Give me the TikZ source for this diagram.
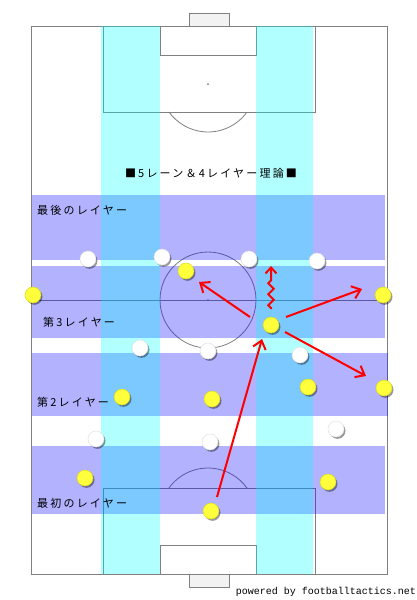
\documentclass[tikz,border=0pt]{standalone}
\usepackage{fontspec}
\newfontfamily\jp[LetterSpace=20]{Noto Sans CJK JP}
\newfontfamily\monof{Liberation Mono}
\usetikzlibrary{arrows.meta,decorations.pathmorphing,shadows}
\definecolor{pitchgray}{HTML}{808080}
\definecolor{goalfill}{HTML}{F2F2F2}
\definecolor{yel}{HTML}{FFFF3C}
\definecolor{yeledge}{HTML}{D8D820}
\definecolor{lanec}{rgb}{0,1,1}
\definecolor{bandc}{rgb}{0,0,1}
\definecolor{arrred}{rgb}{1,0,0}
\begin{document}
\begin{tikzpicture}[x=1pt,y=-1pt,
  pline/.style={draw=pitchgray, line width=0.8pt},
  goalbox/.style={draw=pitchgray, line width=0.8pt, fill=goalfill},
  band/.style={fill=bandc, fill opacity=0.3},
  lane/.style={fill=lanec, fill opacity=0.3},
  player/.style={circle, minimum size=16pt, inner sep=0pt,
    drop shadow={shadow xshift=1.5pt, shadow yshift=-1.8pt, opacity=0.4, fill=black}},
  wp/.style={player, fill=white, draw=black!12, line width=0.5pt},
  yp/.style={player, fill=yel, draw=yeledge, line width=0.5pt},
  arr/.style={draw=arrred, line width=2pt, -{Straight Barb[length=8pt,width=13pt]}},
  lbl/.style={anchor=west, font=\jp\fontsize{11}{13}\selectfont, inner sep=0pt},
]
\useasboundingbox (0,0) rectangle (417,600);
\fill[white] (0,0) rectangle (417,600);
% goals
\draw[goalbox] (189,13) rectangle (229,26);
\draw[goalbox] (189,574) rectangle (229,587);
% pitch
\fill[white] (31,26) rectangle (387,574);
\draw[pline] (31,26) rectangle (387,574);
\draw[pline] (31,300) -- (387,300);
\draw[pline] (208,300) circle[radius=48];
\fill[pitchgray] (208,300) circle[radius=1];
% top area
\draw[pline] (103,26) rectangle (315,112);
\draw[pline] (160,26) rectangle (256,55);
\fill[pitchgray] (208,84) circle[radius=1];
\draw[pline] (247,112) arc[start angle=35.7, end angle=144.3, radius=48];
% bottom area
\draw[pline] (103,488) rectangle (315,574);
\draw[pline] (160,545) rectangle (256,574);
\fill[pitchgray] (208,516) circle[radius=1];
\draw[pline] (169,488) arc[start angle=-144.3, end angle=-35.7, radius=48];
% layers
\fill[band] (32,195) rectangle (385,260);
\fill[band] (32,266) rectangle (385,338);
\fill[band] (32,353) rectangle (388,416);
\fill[band] (32,446) rectangle (385,514);
% lanes
\fill[lane] (101,26) rectangle (160,574);
\fill[lane] (256,26) rectangle (313,574);
% texts
\node[font=\jp\fontsize{11}{13}\selectfont, inner sep=0pt] (title) at (211,173) {■5レーン＆4レイヤー理論■};
\node[lbl] (l1) at (37,210) {最後のレイヤー};
\node[lbl] (l2) at (43,322) {第3レイヤー};
\node[lbl] (l3) at (37,402) {第2レイヤー};
\node[lbl] (l4) at (37,503) {最初のレイヤー};
\node[anchor=east, font=\monof\fontsize{10}{12}\selectfont, inner sep=0pt] (credit) at (416,592) {powered by footballtactics.net};
% white players
\node[wp] (w1) at (88,259) {};
\node[wp] (w2) at (162,257) {};
\node[wp] (w3) at (249,259) {};
\node[wp] (w4) at (317,261) {};
\node[wp] (w5) at (140,348) {};
\node[wp] (w6) at (208,351) {};
\node[wp] (w7) at (300,355) {};
\node[wp] (w8) at (96,439) {};
\node[wp] (w9) at (210,442) {};
\node[wp] (w10) at (336,429) {};
% yellow players
\node[yp] (y1) at (186,271) {};
\node[yp] (y2) at (33,295) {};
\node[yp] (y3) at (383,295) {};
\node[yp] (y4) at (271,325) {};
\node[yp] (y5) at (122,397) {};
\node[yp] (y6) at (212,399) {};
\node[yp] (y7) at (308,387) {};
\node[yp] (y8) at (384,388) {};
\node[yp] (y9) at (85,478) {};
\node[yp] (y10) at (328,482) {};
\node[yp] (y11) at (211,511) {};
% arrow end points
\coordinate (a1s) at (250,317);
\coordinate (a1e) at (199,282);
\coordinate (a2s) at (271,309);
\coordinate (a2e) at (271,266);
\coordinate (a3s) at (286,317);
\coordinate (a3e) at (362,289);
\coordinate (a4s) at (285,332);
\coordinate (a4e) at (366,376);
\coordinate (a5s) at (217,497);
\coordinate (a5e) at (262,339);
\draw[arr] (a1s) -- (a1e);
\draw[arr, -{Straight Barb[length=6pt,width=11pt]}, decorate, decoration={zigzag, segment length=11pt, amplitude=2.8pt, pre length=1pt, post length=10pt}] (a2s) -- (a2e);
\draw[arr] (a3s) -- (a3e);
\draw[arr] (a4s) -- (a4e);
\draw[arr] (a5s) -- (a5e);
\end{tikzpicture}
\end{document}
